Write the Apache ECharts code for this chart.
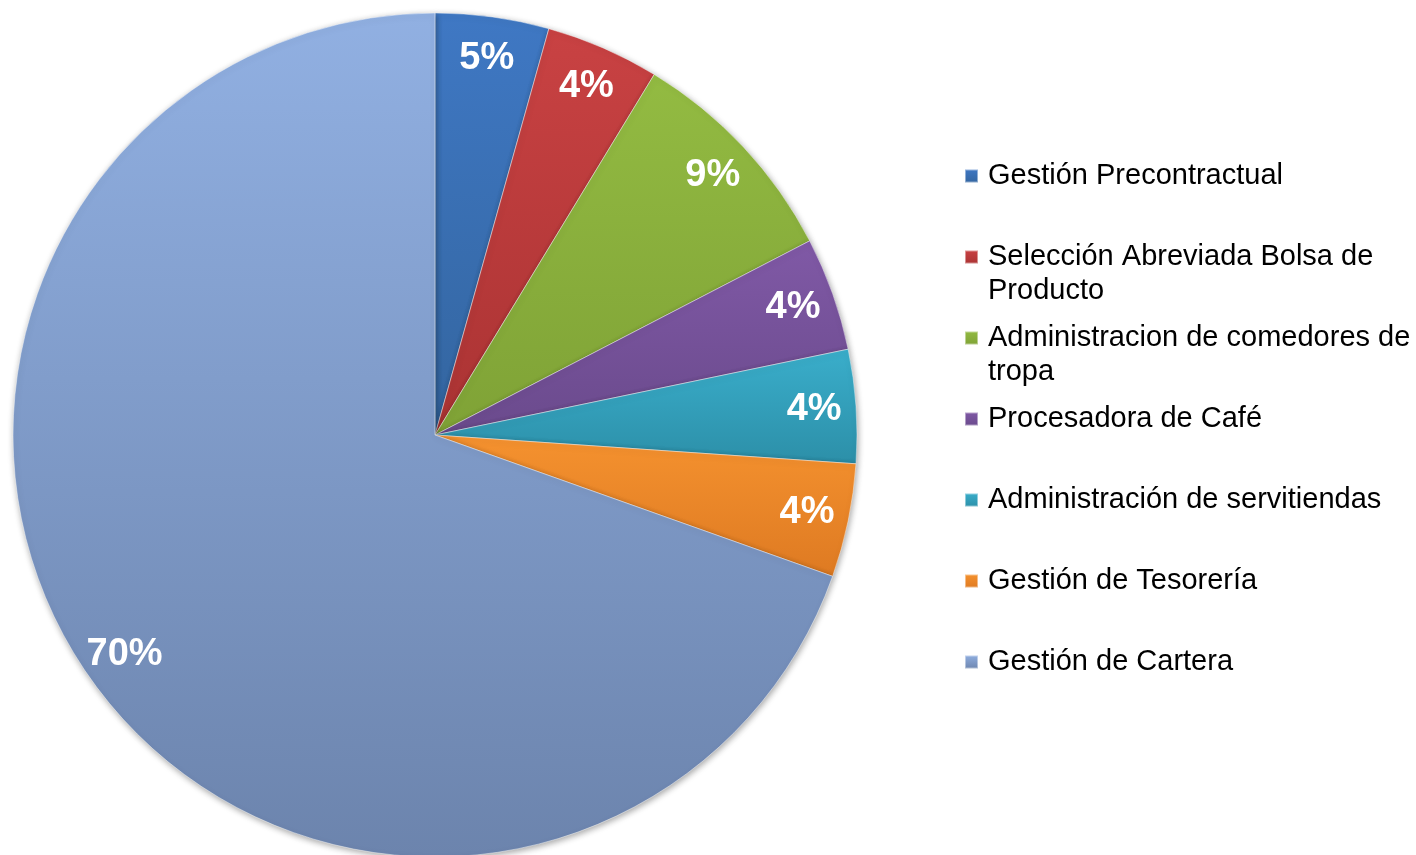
<!DOCTYPE html>
<html>
<head>
<meta charset="utf-8">
<script src="https://cdn.jsdelivr.net/npm/echarts@6/dist/echarts.min.js"></script>
<style>
html,body{margin:0;padding:0;background:#fff;}
#chart{width:1416px;height:855px;}
</style>
</head>
<body>
<div id="chart"></div>
<script>
const categories = [
  'Gestión Precontractual',
  'Selección Abreviada Bolsa de Producto',
  'Administracion de comedores de tropa',
  'Procesadora de Café',
  'Administración de servitiendas',
  'Gestión de Tesorería',
  'Gestión de Cartera'
];
const values = [1, 1, 2, 1, 1, 1, 16];
const legendLines = [
  ['Gestión Precontractual'],
  ['Selección Abreviada Bolsa de', 'Producto'],
  ['Administracion de comedores de', 'tropa'],
  ['Procesadora de Café'],
  ['Administración de servitiendas'],
  ['Gestión de Tesorería'],
  ['Gestión de Cartera']
];
const topColors = ['#3f78c4', '#c94243', '#93bb42', '#8059a6', '#3aaecb', '#f5922f', '#91b0e2'];
const bottomColors = ['#33659f', '#aa3333', '#7fa236', '#6a4a8c', '#2c8fa8', '#de7a22', '#6c84ad'];

const FONT = '"Liberation Sans", Arial, sans-serif';
const CX = 435, CY = 435, R = 422;

function grad(i) {
  return {
    type: 'linear', x: 0, y: 0, x2: 0, y2: 1,
    colorStops: [{offset: 0, color: topColors[i]}, {offset: 1, color: bottomColors[i]}]
  };
}

const mainData = categories.map((n, i) => ({
  name: n, value: values[i],
  itemStyle: {color: grad(i)}
}));
const labelData = categories.map((n, i) => ({name: n, value: values[i]}));

const legendCenters = [176, 257, 338, 419, 500, 581, 662];
const LH = 34;
const legends = categories.map((n, i) => {
  const lines = legendLines[i];
  const txt = lines.length > 1 ? '\n' + lines.join('\n') : lines[0];
  const half = lines.length > 1 ? LH * 1.5 : LH * 0.5;
  return {
    data: [n],
    orient: 'vertical',
    left: 964,
    top: legendCenters[i] - half,
    padding: 0,
    itemWidth: 13,
    itemHeight: 13,
    icon: 'rect',
    selectedMode: false,
    formatter: () => txt,
    textStyle: {
      fontFamily: FONT, fontSize: 29, color: '#000', lineHeight: LH,
      padding: [0, 0, 0, 5]
    }
  };
});

const chart = echarts.init(document.getElementById('chart'), null, {renderer: 'canvas'});
chart.setOption({
  backgroundColor: '#ffffff',
  animation: false,
  legend: legends,
  series: [
    {
      type: 'pie',
      center: [CX, CY],
      radius: [0, R],
      startAngle: 90,
      clockwise: true,
      label: {show: false},
      labelLine: {show: false},
      silent: true,
      itemStyle: {
        borderColor: 'rgba(255,255,255,0.45)',
        borderWidth: 1,
        shadowBlur: 6,
        shadowColor: 'rgba(0,0,0,0.35)',
        shadowOffsetX: 1,
        shadowOffsetY: 2
      },
      data: mainData
    },
    {
      type: 'pie',
      center: [CX, CY],
      radius: [332, R],
      startAngle: 90,
      clockwise: true,
      silent: true,
      percentPrecision: 0,
      itemStyle: {color: 'rgba(0,0,0,0)', borderWidth: 0},
      label: {
        show: true,
        position: 'inside',
        formatter: '{d}%',
        color: '#ffffff',
        fontFamily: FONT,
        fontSize: 38,
        fontWeight: 'bold'
      },
      labelLine: {show: false},
      data: labelData
    }
  ]
});
</script>
</body>
</html>
